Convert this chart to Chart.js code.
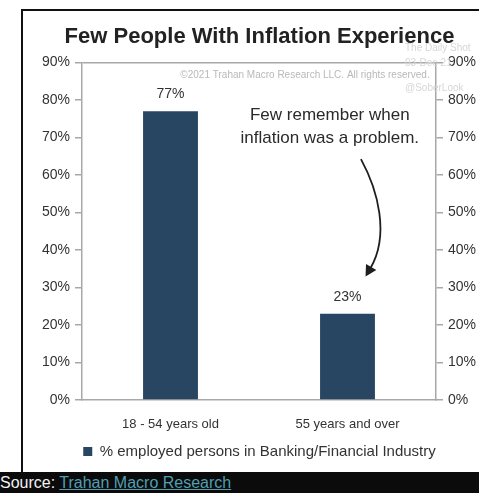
<!DOCTYPE html>
<html>
<head>
<meta charset="utf-8">
<script src="https://cdn.jsdelivr.net/npm/chart.js@4/dist/chart.umd.min.js"></script>
<style>
  html, body { margin: 0; padding: 0; background: #fff; }
  #wrap { position: relative; width: 479px; height: 493px; overflow: hidden; }
  #chart { display: block; }
  #source {
    position: absolute; left: 0; top: 472px; width: 479px; height: 21px;
    background: #0b0b0b; color: #f2f2f2;
    font: 16px "Liberation Sans", Arial, sans-serif; line-height: 21px;
    white-space: nowrap;
  }
  #source a { color: #4f9fb3; text-decoration: underline; }
</style>
</head>
<body>
<div id="wrap">
  <canvas id="chart" width="479" height="472"></canvas>
  <div id="source">Source: <a>Trahan Macro Research</a></div>
</div>
<script>
const categories = ['18 - 54 years old', '55 years and over'];
const shareEmployed = [77, 23];
const seriesName = '% employed persons in Banking/Financial Industry';
const yTicks = [0, 10, 20, 30, 40, 50, 60, 70, 80, 90];

const FONT = '"Liberation Sans", Arial, Helvetica, sans-serif';
const BAR = '#284562';
const AXIS = '#a8a8a8';
const TEXT = '#333333';

// frame, watermarks, value labels and the callout arrow
const extras = {
  id: 'extras',
  beforeDraw(chart) {
    const { ctx, width, height } = chart;
    ctx.save();
    ctx.fillStyle = '#fff';
    ctx.fillRect(0, 0, width, height);
    ctx.fillStyle = '#111';
    ctx.fillRect(21, 9, width - 21, 2);
    ctx.fillRect(21, 9, 2, height - 9);
    ctx.restore();
  },
  afterDatasetsDraw(chart) {
    const { ctx } = chart;
    const x = chart.scales.x;
    const y = chart.scales.y;
    const px = (v) => x.getPixelForValue(v);
    const py = (v) => y.getPixelForValue(v);
    ctx.save();

    // watermarks
    ctx.fillStyle = '#b9b9b9';
    ctx.font = '10px ' + FONT;
    ctx.textAlign = 'center';
    ctx.textBaseline = 'middle';
    ctx.fillText('\u00a92021 Trahan Macro Research LLC. All rights reserved.', px(0.76), py(86.6));
    ctx.fillStyle = '#d6d6d6';
    ctx.textAlign = 'left';
    ctx.fillText('The Daily Shot', 405, 48);
    ctx.fillText('03-Dec-21', 405, 63);
    ctx.fillText('@SoberLook', 405, 88);

    // value labels above bars
    const meta = chart.getDatasetMeta(0);
    ctx.fillStyle = TEXT;
    ctx.font = '14px ' + FONT;
    ctx.textAlign = 'center';
    ctx.textBaseline = 'middle';
    meta.data.forEach((bar, i) => {
      ctx.fillText(shareEmployed[i] + '%', bar.x, bar.y - 17);
    });

    // callout text
    ctx.font = '17px ' + FONT;
    ctx.fillStyle = '#2a2a2a';
    ctx.fillText('Few remember when', px(0.9), py(75.9));
    ctx.fillText('inflation was a problem.', px(0.9), py(69.8));

    // curved arrow
    const p0 = [px(1.076), py(64.2)];
    const p1 = [px(1.172), py(55.9)];
    const p2 = [px(1.24), py(43.9)];
    const p3 = [px(1.128), py(35.0)];
    ctx.strokeStyle = '#1e1e1e';
    ctx.lineWidth = 1.8;
    ctx.beginPath();
    ctx.moveTo(p0[0], p0[1]);
    ctx.bezierCurveTo(p1[0], p1[1], p2[0], p2[1], p3[0], p3[1]);
    ctx.stroke();
    const dx = p3[0] - p2[0], dy = p3[1] - p2[1];
    const len = Math.hypot(dx, dy);
    const ux = dx / len, uy = dy / len;
    const tip = [p3[0] + ux * 9, p3[1] + uy * 9];
    const back = [p3[0] - ux * 2, p3[1] - uy * 2];
    ctx.fillStyle = '#1e1e1e';
    ctx.beginPath();
    ctx.moveTo(tip[0], tip[1]);
    ctx.lineTo(back[0] - uy * 6, back[1] + ux * 6);
    ctx.lineTo(back[0] + uy * 6, back[1] - ux * 6);
    ctx.closePath();
    ctx.fill();
    ctx.restore();
  }
};

const pctAxis = (position) => ({
  position,
  min: 0,
  max: 90,
  afterBuildTicks(scale) { scale.ticks = yTicks.map((v) => ({ value: v })); },
  afterFit(scale) { scale.width = position === 'left' ? 42 : 43; },
  border: { display: true, color: AXIS, width: 1.5 },
  grid: {
    drawOnChartArea: position === 'left',
    color: (c) => (c.tick && c.tick.value === 90 ? AXIS : 'rgba(0,0,0,0)'),
    lineWidth: 1.5,
    tickColor: AXIS,
    tickLength: 7,
  },
  ticks: {
    padding: 5,
    color: TEXT,
    font: { family: FONT, size: 14 },
    callback: (v) => v + '%',
  },
});

new Chart(document.getElementById('chart'), {
  type: 'bar',
  data: {
    labels: categories,
    datasets: [
      {
        label: seriesName,
        data: shareEmployed,
        backgroundColor: BAR,
        borderWidth: 0,
        barPercentage: 0.31,
        categoryPercentage: 1,
      },
    ],
  },
  options: {
    responsive: false,
    animation: false,
    layout: { padding: { left: 40, right: 0, top: 0, bottom: 3 } },
    plugins: {
      title: {
        display: true,
        text: 'Few People With Inflation Experience',
        color: '#222',
        font: { family: FONT, size: 22, weight: 'bold' },
        padding: { top: 24, bottom: 12 },
      },
      legend: {
        position: 'bottom',
        labels: {
          color: TEXT,
          font: { family: FONT, size: 15 },
          boxWidth: 9,
          boxHeight: 9,
          padding: 10,
        },
      },
      tooltip: { enabled: false },
    },
    scales: {
      x: {
        afterFit(scale) { scale.height = 34; },
        border: { display: true, color: AXIS, width: 1.5 },
        grid: { display: false },
        ticks: {
          padding: 9,
          color: TEXT,
          font: { family: FONT, size: 13 },
        },
      },
      y: pctAxis('left'),
      y2: pctAxis('right'),
    },
  },
  plugins: [extras],
});
</script>
</body>
</html>
